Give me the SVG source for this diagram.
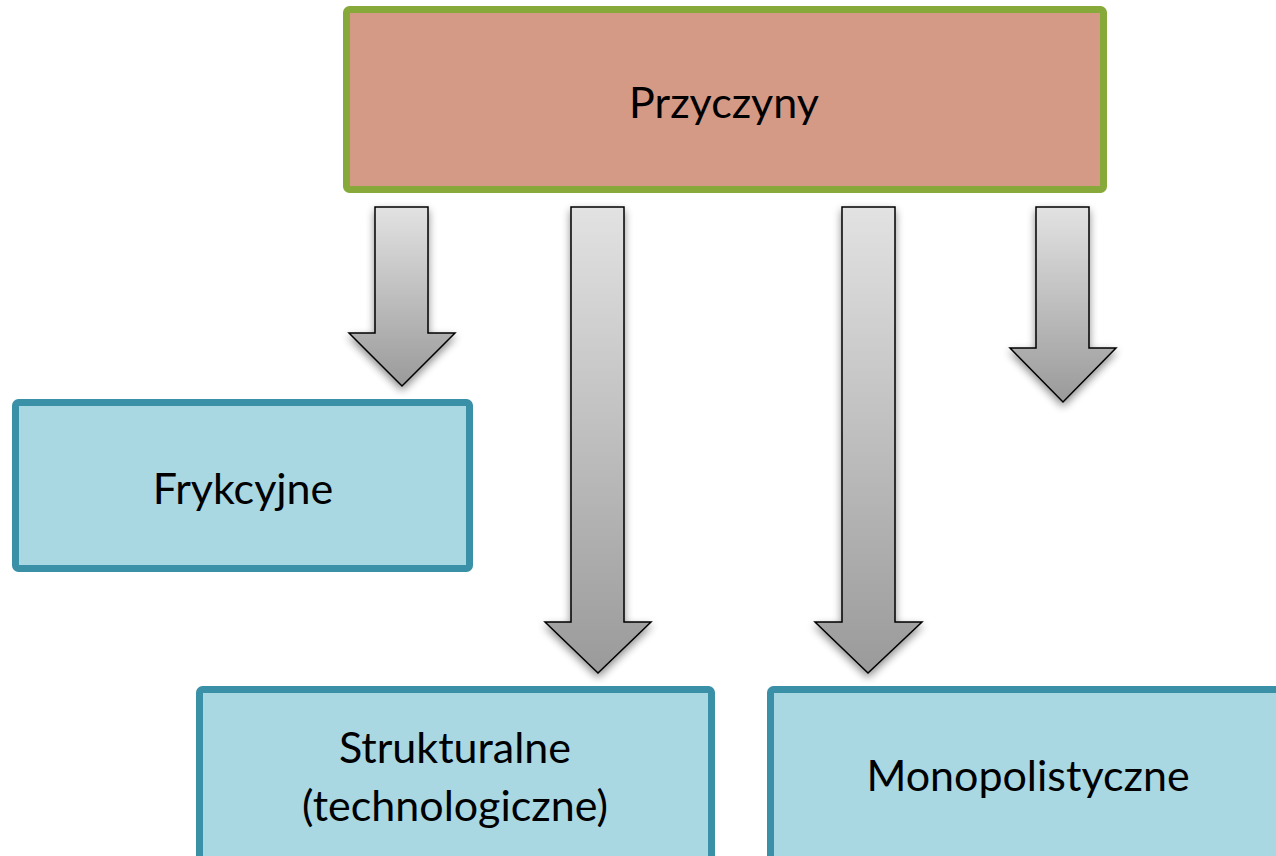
<svg xmlns="http://www.w3.org/2000/svg" width="1276" height="856" viewBox="0 0 1276 856">
<defs>
<linearGradient id="ag" x1="0" y1="0" x2="0" y2="1">
<stop offset="0" stop-color="#e2e2e2"/>
<stop offset="1" stop-color="#9a9a9a"/>
</linearGradient>
<filter id="sh" x="-30%" y="-10%" width="160%" height="130%">
<feGaussianBlur in="SourceAlpha" stdDeviation="4"/>
<feOffset dx="0" dy="4" result="b"/>
<feComponentTransfer><feFuncA type="linear" slope="0.45"/></feComponentTransfer>
<feMerge><feMergeNode/><feMergeNode in="SourceGraphic"/></feMerge>
</filter>
</defs>
<style>
.top{fill:#d59a86;stroke:#87a93a;stroke-width:7}
.box{fill:#a9d7e2;stroke:#3a90a6;stroke-width:7}
.arrow{fill:url(#ag);stroke:#000;stroke-width:1.5;stroke-linejoin:miter}
text{font-family:Lato,"Open Sans",sans-serif;font-size:43px;fill:#000;text-anchor:middle}
</style>
<rect width="1276" height="856" fill="#fff"/>
<g id="connectors" filter="url(#sh)">
<polygon class="arrow" points="375,207 428,207 428,333 455,333 402,386 349,333 375,333"/>
<polygon class="arrow" points="571,207 624,207 624,622 651,622 598,673 545,622 571,622"/>
<polygon class="arrow" points="842,207 895,207 895,622 922,622 868,673 815,622 842,622"/>
<polygon class="arrow" points="1036,207 1089,207 1089,348 1116,348 1063,402 1010,348 1036,348"/>
</g>
<g id="przyczyny">
<rect class="top" x="346.5" y="9.5" width="757" height="180" rx="3"/>
<text x="724" y="118">Przyczyny</text>
</g>
<g id="frykcyjne">
<rect class="box" x="15.5" y="402.5" width="454" height="166" rx="3"/>
<text x="243" y="504">Frykcyjne</text>
</g>
<g id="strukturalne">
<rect class="box" x="199.5" y="689.5" width="512" height="180" rx="3"/>
<text x="455" y="763">Strukturalne</text>
<text x="455" y="821">(technologiczne)</text>
</g>
<g id="monopolistyczne">
<rect class="box" x="770.5" y="689.5" width="520" height="180" rx="3"/>
<text x="1028" y="791">Monopolistyczne</text>
</g>
</svg>
